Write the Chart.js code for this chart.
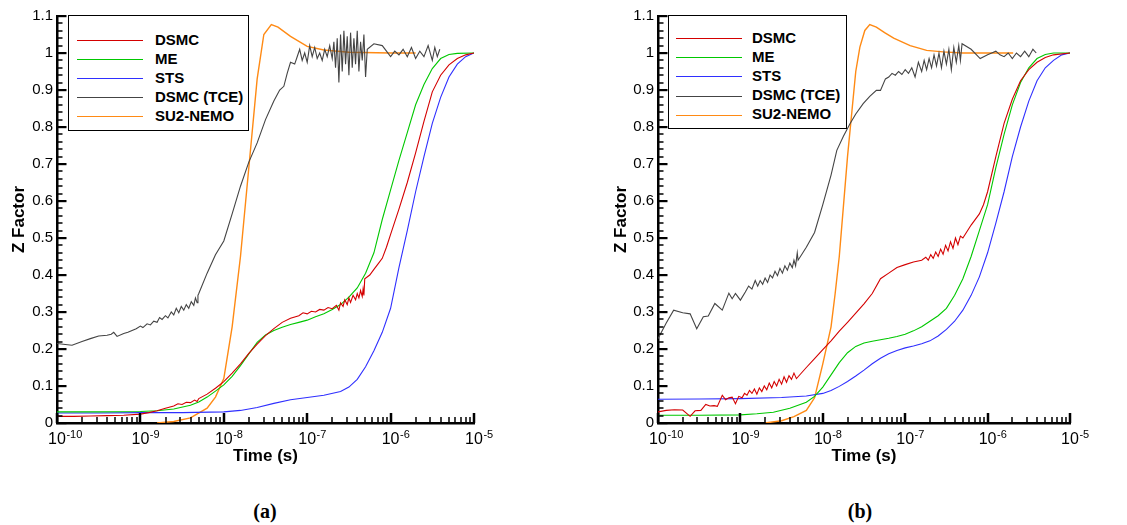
<!DOCTYPE html>
<html lang="en">
<head>
  <meta charset="UTF-8">
  <title>Z Factor vs Time</title>
  <script src="https://cdn.jsdelivr.net/npm/chart.js"></script>
  <style>
    body {
      margin: 0;
      background: #fff;
      font-family: "Liberation Sans", Arial, sans-serif;
    }
    #wrap {
      position: relative;
      width: 1127px;
      height: 525px;
    }
    canvas {
      position: absolute;
      top: 0;
    }
    .legend {
      position: absolute;
      border: 1px solid #000;
      background: #fff;
      box-sizing: border-box;
    }
    .legend .row {
      position: absolute;
      height: 19px;
      line-height: 19px;
      font-weight: bold;
      font-size: 15px;
      white-space: nowrap;
    }
    .legend .swatch {
      display: inline-block;
      width: 66px;
      height: 0;
      border-top: 1.5px solid;
      vertical-align: middle;
    }
    .caption {
      position: absolute;
      top: 500px;
      width: 60px;
      margin-left: -30px;
      text-align: center;
      font-family: "Liberation Serif", "Times New Roman", serif;
      font-weight: bold;
      font-size: 20px;
    }
  </style>
</head>
<body>
<div id="wrap">
  <canvas id="chartA" width="560" height="480" style="left:0"></canvas>
  <canvas id="chartB" width="567" height="480" style="left:560px"></canvas>
  <div class="legend" id="legA" style="left:68px;top:15px;width:181px;height:116px"></div>
  <div class="legend" id="legB" style="left:668px;top:15px;width:179px;height:114px"></div>
  <div class="caption" style="left:265px">(a)</div>
  <div class="caption" style="left:860px">(b)</div>
</div>

<script>
  // ---- shared axis data ----
  const xMajorTicks = [1e-10, 1e-9, 1e-8, 1e-7, 1e-6, 1e-5];
  const xTickBase = '10';
  const xTickExponents = ['-10', '-9', '-8', '-7', '-6', '-5'];
  const yTickLabels = ['0', '0.1', '0.2', '0.3', '0.4', '0.5', '0.6', '0.7', '0.8', '0.9', '1', '1.1'];
  const seriesNames = ['DSMC', 'ME', 'STS', 'DSMC (TCE)', 'SU2-NEMO'];
  const seriesColors = ['#d40000', '#00c800', '#2f2fff', '#444444', '#ff8a14'];

  // ---- panel (a): log10(time) and Z factor ----
  const aDsmcLogT = [-10, -9.8, -9.6, -9.4, -9.2, -9, -8.9, -8.8, -8.7, -8.6, -8.55, -8.5, -8.45, -8.4, -8.35, -8.32, -8.3, -8.2, -8.1, -8,
    -7.9, -7.8, -7.7, -7.6, -7.5, -7.4, -7.3, -7.2, -7.1, -7.05, -7, -6.95, -6.9, -6.85, -6.8, -6.75, -6.7, -6.65, -6.62, -6.6,
    -6.57, -6.55, -6.52, -6.5, -6.48, -6.45, -6.42, -6.4, -6.38, -6.36, -6.34, -6.33, -6.32, -6.31, -6.25, -6.2, -6.15, -6.1, -6.05, -6,
    -5.9, -5.8, -5.7, -5.6, -5.5, -5.4, -5.3, -5.2, -5.1, -5];
  const aDsmcZ = [0.018, 0.018, 0.019, 0.02, 0.021, 0.024, 0.028, 0.033, 0.04, 0.046, 0.052, 0.05, 0.056, 0.055, 0.062, 0.058, 0.066, 0.078, 0.094, 0.112,
    0.135, 0.16, 0.188, 0.213, 0.236, 0.255, 0.272, 0.283, 0.29, 0.298, 0.295, 0.302, 0.3, 0.307, 0.305, 0.312, 0.309, 0.318, 0.305, 0.325,
    0.315, 0.333, 0.32, 0.338, 0.326, 0.345, 0.333, 0.35, 0.338, 0.358, 0.342, 0.362, 0.345, 0.39, 0.4, 0.415, 0.43, 0.445, 0.475, 0.51,
    0.578, 0.65, 0.73, 0.815, 0.895, 0.94, 0.968, 0.985, 0.995, 1.0];

  const aMeLogT = [-10, -9.5, -9, -8.8, -8.6, -8.4, -8.3, -8.2, -8.1, -8, -7.9, -7.8, -7.7, -7.6, -7.5, -7.4, -7.3, -7.2, -7.1, -7,
    -6.9, -6.8, -6.7, -6.6, -6.5, -6.4, -6.3, -6.2, -6.1, -6, -5.9, -5.8, -5.7, -5.6, -5.5, -5.4, -5.3, -5.2, -5];
  const aMeZ = [0.03, 0.03, 0.031, 0.033, 0.038, 0.048, 0.057, 0.07, 0.086, 0.103, 0.126, 0.155, 0.187, 0.218, 0.238, 0.25, 0.259, 0.266, 0.272, 0.278,
    0.287, 0.295, 0.307, 0.32, 0.34, 0.365, 0.405, 0.46, 0.55, 0.63, 0.71, 0.785, 0.86, 0.915, 0.958, 0.985, 0.996, 0.999, 1.0];

  const aStsLogT = [-10, -9.5, -9, -8.5, -8, -7.8, -7.6, -7.4, -7.2, -7, -6.8, -6.6, -6.5, -6.4, -6.3, -6.2, -6.1, -6, -5.9, -5.8,
    -5.7, -5.6, -5.5, -5.4, -5.3, -5.2, -5.1, -5];
  const aStsZ = [0.027, 0.027, 0.028, 0.028, 0.03, 0.034, 0.042, 0.053, 0.063, 0.069, 0.075, 0.085, 0.097, 0.118, 0.152, 0.195, 0.245, 0.31, 0.42, 0.52,
    0.625, 0.72, 0.81, 0.88, 0.935, 0.97, 0.99, 1.0];

  const aTceLogT = [-10, -9.9, -9.82, -9.7, -9.6, -9.5, -9.4, -9.35, -9.32, -9.28, -9.2, -9.15, -9.1, -9.05, -9, -8.97, -8.92, -8.88, -8.84, -8.8,
    -8.77, -8.74, -8.7, -8.67, -8.63, -8.6, -8.57, -8.54, -8.51, -8.48, -8.45, -8.42, -8.39, -8.36, -8.34, -8.32, -8.31, -8.3, -8.2, -8.1,
    -8, -7.9, -7.8, -7.7, -7.6, -7.5, -7.4, -7.33, -7.28, -7.24, -7.2, -7.15, -7.12, -7.09, -7.06, -7.03, -7, -6.97, -6.94, -6.91,
    -6.88, -6.85, -6.82, -6.79, -6.76, -6.73, -6.7, -6.68, -6.66, -6.64, -6.62, -6.6, -6.58, -6.56, -6.54, -6.52, -6.5, -6.48, -6.46, -6.44,
    -6.42, -6.4, -6.38, -6.36, -6.34, -6.32, -6.3, -6.28, -6.2, -6.1, -6, -5.95, -5.9, -5.85, -5.8, -5.75, -5.7, -5.65, -5.6, -5.55,
    -5.5, -5.47, -5.44, -5.41];
  const aTceZ = [0.215, 0.212, 0.21, 0.22, 0.228, 0.235, 0.237, 0.24, 0.245, 0.234, 0.242, 0.245, 0.25, 0.255, 0.262, 0.258, 0.268, 0.265, 0.275, 0.272,
    0.285, 0.28, 0.29, 0.284, 0.3, 0.292, 0.31, 0.298, 0.315, 0.305, 0.32, 0.31, 0.328, 0.318, 0.338, 0.325, 0.345, 0.35, 0.405, 0.455,
    0.492, 0.565, 0.64, 0.705, 0.757, 0.82, 0.87, 0.9, 0.91, 0.945, 0.975, 0.97, 0.99, 1.01, 0.98, 1.0, 0.975, 1.02, 0.99, 1.015,
    0.985, 1.0, 0.98, 1.01, 0.99, 1.02, 0.985, 1.03, 0.96, 1.04, 0.92, 1.05, 0.95, 1.06, 0.97, 1.045, 0.94, 1.055, 0.96, 1.04,
    0.97, 1.06, 0.95, 1.03, 0.98, 1.05, 0.935, 1.01, 1.025, 1.02, 0.99, 1.005, 0.995, 1.01, 0.99, 1.015, 0.985, 1.005, 0.99, 1.02,
    0.98, 1.015, 0.99, 1.01];

  const aSu2LogT = [-8.8, -8.6, -8.4, -8.2, -8.1, -8, -7.9, -7.8, -7.7, -7.6, -7.52, -7.43, -7.35, -7.2, -7, -6.8, -6.5, -6, -5.7];
  const aSu2Z = [0, 0.004, 0.014, 0.04, 0.07, 0.12, 0.26, 0.45, 0.69, 0.93, 1.05, 1.077, 1.07, 1.045, 1.018, 1.008, 1.002, 1.0, 1.0];

  // ---- panel (b) ----
  const bDsmcLogT = [-10, -9.9, -9.8, -9.7, -9.61, -9.55, -9.48, -9.42, -9.37, -9.32, -9.28, -9.22, -9.18, -9.14, -9.1, -9.06, -9.02, -8.98, -8.95, -8.92,
    -8.89, -8.86, -8.83, -8.8, -8.77, -8.74, -8.71, -8.68, -8.65, -8.62, -8.59, -8.56, -8.53, -8.5, -8.47, -8.44, -8.41, -8.38, -8.35, -8.32,
    -8.3, -8.2, -8.1, -8, -7.9, -7.8, -7.7, -7.6, -7.5, -7.4, -7.3, -7.2, -7.1, -7, -6.9, -6.8, -6.75, -6.72, -6.69, -6.66,
    -6.63, -6.6, -6.57, -6.54, -6.51, -6.48, -6.45, -6.42, -6.39, -6.36, -6.33, -6.3, -6.2, -6.1, -6.05, -6, -5.9, -5.8, -5.7, -5.6,
    -5.5, -5.4, -5.3, -5.2, -5];
  const bDsmcZ = [0.03, 0.034, 0.036, 0.035, 0.018, 0.033, 0.034, 0.05, 0.046, 0.047, 0.045, 0.075, 0.063, 0.068, 0.07, 0.052, 0.072, 0.068, 0.08, 0.075,
    0.088, 0.08, 0.092, 0.078, 0.095, 0.085, 0.1, 0.09, 0.108, 0.095, 0.112, 0.1, 0.118, 0.105, 0.125, 0.11, 0.128, 0.118, 0.135, 0.12,
    0.125, 0.15, 0.174, 0.198, 0.222, 0.248, 0.272, 0.297, 0.322, 0.35, 0.39, 0.405, 0.42, 0.428, 0.435, 0.44, 0.448, 0.44, 0.455, 0.445,
    0.462, 0.45, 0.47, 0.456, 0.48, 0.465, 0.49, 0.472, 0.5, 0.482, 0.505, 0.5, 0.535, 0.565, 0.59, 0.625, 0.72, 0.81, 0.875, 0.925,
    0.955, 0.975, 0.988, 0.995, 1.0];

  const bMeLogT = [-10, -9.5, -9, -8.8, -8.6, -8.4, -8.2, -8.1, -8, -7.9, -7.8, -7.7, -7.6, -7.5, -7.4, -7.3, -7.2, -7.1, -7, -6.9,
    -6.8, -6.7, -6.6, -6.5, -6.4, -6.3, -6.2, -6.1, -6, -5.9, -5.8, -5.7, -5.6, -5.5, -5.4, -5.3, -5.2, -5];
  const bMeZ = [0.021, 0.021, 0.022, 0.025, 0.029, 0.04, 0.056, 0.072, 0.097, 0.13, 0.163, 0.19, 0.207, 0.216, 0.221, 0.225, 0.229, 0.234, 0.24, 0.249,
    0.26, 0.275, 0.29, 0.31, 0.345, 0.39, 0.45, 0.52, 0.59, 0.69, 0.78, 0.86, 0.92, 0.96, 0.985, 0.996, 1.0, 1.0];

  const bStsLogT = [-10, -9.5, -9, -8.5, -8.2, -8, -7.9, -7.8, -7.7, -7.6, -7.5, -7.4, -7.3, -7.2, -7.1, -7, -6.9, -6.8, -6.7, -6.6,
    -6.5, -6.4, -6.3, -6.2, -6.1, -6, -5.9, -5.8, -5.7, -5.6, -5.5, -5.4, -5.3, -5.2, -5.1, -5];
  const bStsZ = [0.064, 0.065, 0.066, 0.069, 0.073, 0.08, 0.088, 0.099, 0.112, 0.127, 0.143, 0.16, 0.175, 0.187, 0.196, 0.203, 0.208, 0.214, 0.222, 0.235,
    0.253, 0.275, 0.305, 0.345, 0.395, 0.46, 0.54, 0.625, 0.72, 0.8, 0.87, 0.925, 0.96, 0.98, 0.995, 1.0];

  const bTceLogT = [-10, -9.9, -9.81, -9.7, -9.61, -9.53, -9.45, -9.39, -9.31, -9.22, -9.14, -9.1, -9.06, -9, -8.94, -8.9, -8.86, -8.82, -8.79, -8.76,
    -8.73, -8.7, -8.67, -8.64, -8.61, -8.58, -8.55, -8.52, -8.49, -8.46, -8.43, -8.4, -8.37, -8.35, -8.33, -8.31, -8.3, -8.2, -8.1, -8,
    -7.9, -7.83, -7.75, -7.67, -7.6, -7.51, -7.43, -7.35, -7.3, -7.24, -7.2, -7.16, -7.12, -7.08, -7.04, -7, -6.96, -6.92, -6.88, -6.84,
    -6.8, -6.77, -6.74, -6.71, -6.68, -6.65, -6.62, -6.59, -6.56, -6.53, -6.5, -6.47, -6.44, -6.41, -6.38, -6.35, -6.33, -6.31, -6.2, -6.09,
    -6, -5.95, -5.9, -5.85, -5.8, -5.75, -5.7, -5.65, -5.6, -5.55, -5.5, -5.45, -5.41];
  const bTceZ = [0.228, 0.27, 0.305, 0.298, 0.295, 0.255, 0.287, 0.289, 0.323, 0.305, 0.351, 0.336, 0.35, 0.332, 0.354, 0.37, 0.362, 0.385, 0.37, 0.385,
    0.375, 0.392, 0.38, 0.4, 0.392, 0.41, 0.398, 0.418, 0.405, 0.425, 0.413, 0.432, 0.42, 0.44, 0.425, 0.46, 0.44, 0.475, 0.515, 0.59,
    0.67, 0.737, 0.775, 0.809, 0.835, 0.863, 0.883, 0.899, 0.899, 0.93, 0.935, 0.945, 0.94, 0.95, 0.942, 0.955, 0.945, 0.96, 0.935, 0.975,
    0.95, 0.98, 0.955, 0.985, 0.96, 0.995, 0.965, 1.0, 0.96, 1.005, 0.97, 1.01, 0.955, 1.015, 0.975, 1.02, 0.98, 1.025, 1.01, 0.985,
    0.995, 1.0, 1.005, 0.995, 0.99, 1.0, 0.985, 1.0, 0.99, 1.005, 0.99, 1.01, 1.0];

  const bSu2LogT = [-8.7, -8.5, -8.35, -8.2, -8.1, -8, -7.9, -7.85, -7.8, -7.7, -7.6, -7.55, -7.49, -7.43, -7.35, -7.25, -7.14, -6.94, -6.74, -6.54, -6.3, -5.69];
  const bSu2Z = [0, 0.006, 0.017, 0.034, 0.068, 0.16, 0.26, 0.35, 0.45, 0.72, 0.95, 1.016, 1.061, 1.077, 1.07, 1.055, 1.04, 1.02, 1.007, 1.003, 1.0, 1.0];

  function points(logT, z) {
    return logT.map((lt, i) => ({ x: Math.pow(10, lt), y: z[i] }));
  }

  // inward tick marks plus 10^n labels for the log axis
  const axisDecor = {
    id: 'axisDecor',
    afterDatasetsDraw(chart) {
      const ctx = chart.ctx;
      const area = chart.chartArea;
      const xs = chart.scales.x;
      const ys = chart.scales.y;
      ctx.save();
      ctx.fillStyle = '#000';

      for (let d = 0; d < xMajorTicks.length; d++) {
        const last = d === xMajorTicks.length - 1;
        for (let k = 1; k <= (last ? 1 : 9); k++) {
          const px = Math.round(xs.getPixelForValue(k * xMajorTicks[d]));
          if (k === 1) {
            ctx.fillRect(px - 1.25, area.bottom - 10, 2.5, 10);
          } else {
            ctx.fillRect(px - 0.75, area.bottom - 6, 1.5, 6);
          }
        }
        // label: base centred on the tick, exponent raised to its right
        const cx = xs.getPixelForValue(xMajorTicks[d]);
        ctx.font = '16px "Liberation Sans", Arial, sans-serif';
        ctx.textAlign = 'center';
        ctx.textBaseline = 'alphabetic';
        ctx.fillText(xTickBase, cx, area.bottom + 21);
        const half = ctx.measureText(xTickBase).width / 2;
        ctx.font = '11px "Liberation Sans", Arial, sans-serif';
        ctx.textAlign = 'left';
        ctx.fillText(xTickExponents[d], cx + half + 0.5, area.bottom + 14.5);
      }

      for (let i = 0; i <= 55; i++) {
        const py = Math.round(ys.getPixelForValue(i * 0.02));
        if (i % 5 === 0) {
          ctx.fillRect(area.left, py - 1, 9.5, 2.2);
        } else {
          ctx.fillRect(area.left, py - 0.75, 5.5, 1.5);
        }
      }
      ctx.restore();
    }
  };

  function makeChart(id, series, padLeft, yWidth, padRight) {
    const datasets = series.map((s, i) => ({
      label: seriesNames[i],
      data: points(s[0], s[1]),
      borderColor: seriesColors[i],
      borderWidth: i === 4 ? 1.4 : 1.1,
      pointRadius: 0,
      fill: false,
      tension: 0
    }));
    return new Chart(document.getElementById(id), {
      type: 'line',
      data: { datasets },
      plugins: [axisDecor],
      options: {
        responsive: false,
        animation: false,
        devicePixelRatio: 1,
        layout: { padding: { left: padLeft, right: padRight, top: 16, bottom: 0 } },
        plugins: { legend: { display: false }, tooltip: { enabled: false } },
        scales: {
          x: {
            type: 'logarithmic',
            min: 1e-10,
            max: 1e-5,
            afterBuildTicks: scale => { scale.ticks = xMajorTicks.map(v => ({ value: v })); },
            afterFit: scale => { scale.height = 57; },
            grid: { display: false, drawTicks: false },
            border: { display: true, color: '#000', width: 2.5 },
            ticks: { display: false },
            title: {
              display: true,
              text: 'Time (s)',
              color: '#000',
              padding: { top: 0, bottom: 13 },
              font: { family: '"Liberation Sans", Arial, sans-serif', size: 17, weight: 'bold' }
            }
          },
          y: {
            min: 0,
            max: 1.1,
            afterBuildTicks: scale => { scale.ticks = yTickLabels.map((t, i) => ({ value: i / 10 })); },
            afterFit: scale => { scale.width = yWidth; },
            grid: { display: false, drawTicks: false },
            border: { display: true, color: '#000', width: 2.5 },
            ticks: {
              autoSkip: false,
              padding: 4,
              color: '#000',
              font: { family: '"Liberation Sans", Arial, sans-serif', size: 15 },
              callback: (v, i) => yTickLabels[i]
            },
            title: {
              display: true,
              text: 'Z Factor',
              color: '#000',
              padding: { top: 9, bottom: 0 },
              font: { family: '"Liberation Sans", Arial, sans-serif', size: 17, weight: 'bold' }
            }
          }
        }
      }
    });
  }

  makeChart('chartA', [
    [aDsmcLogT, aDsmcZ], [aMeLogT, aMeZ], [aStsLogT, aStsZ], [aTceLogT, aTceZ], [aSu2LogT, aSu2Z]
  ], 0, 57, 86);

  makeChart('chartB', [
    [bDsmcLogT, bDsmcZ], [bMeLogT, bMeZ], [bStsLogT, bStsZ], [bTceLogT, bTceZ], [bSu2LogT, bSu2Z]
  ], 42, 56, 57);

  // legends inside the plot areas
  function buildLegend(id, firstRow, step, lineLeft, textGap) {
    const box = document.getElementById(id);
    seriesNames.forEach((name, i) => {
      const row = document.createElement('div');
      row.className = 'row';
      row.style.top = (firstRow + step * i - 9.5) + 'px';
      row.style.left = lineLeft + 'px';
      const sw = document.createElement('span');
      sw.className = 'swatch';
      sw.style.borderTopColor = seriesColors[i];
      sw.style.marginRight = textGap + 'px';
      row.appendChild(sw);
      row.appendChild(document.createTextNode(name));
      box.appendChild(row);
    });
  }
  buildLegend('legA', 23, 19, 8, 12);
  buildLegend('legB', 21, 19.2, 7, 10);
</script>
</body>
</html>
